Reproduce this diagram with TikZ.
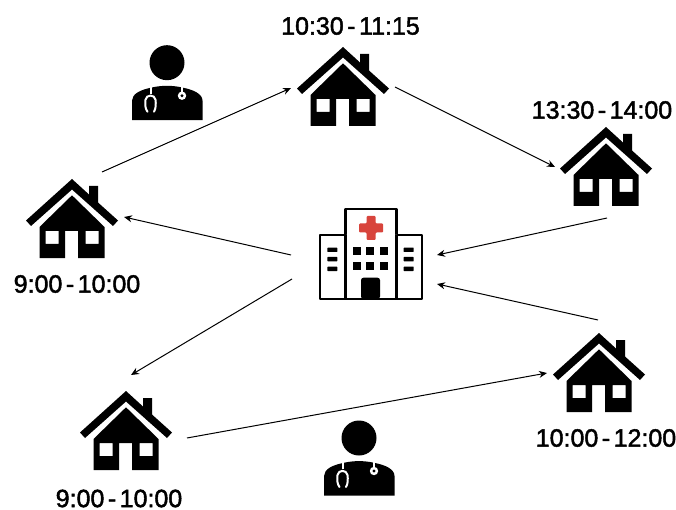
\documentclass[tikz,border=0pt]{standalone}
\usepackage{fontspec}
\setmainfont[FakeBold=1.8]{Liberation Sans}
\usetikzlibrary{arrows.meta}
\definecolor{crossred}{HTML}{D8443C}
\newcommand{\dashgap}{\kern3.5pt-\kern3.5pt}
\tikzset{
  x=1pt,y=-1pt,
  timelabel/.style={font=\fontsize{25}{27}\selectfont,inner sep=0pt,text=black},
  anchorbox/.style={inner sep=0pt,minimum width=60pt,minimum height=60pt},
  route/.style={draw=black,line width=1pt,-{Stealth[length=8pt,width=7pt]}},
  house/.pic={
    \fill[black] (-46,41.5) -- (0,0) -- (17,15.5) -- (17,7) -- (26,7) -- (26,23.5) -- (46,41.5) -- (41,47) -- (0,10.5) -- (-41,47) -- cycle;
    \fill[black,even odd rule] (-32.5,48) -- (0,16.3) -- (32.5,48) -- (32.5,79) -- (6,79) -- (6,52) -- (-7,52) -- (-7,79) -- (-32.5,79) -- cycle
      (-26.5,52) rectangle (-13.5,65) (13.5,52) rectangle (26.5,65);
  },
  doctor/.pic={
    \fill[black] (0,0) circle (17.5);
    \fill[black] (-35,57.5) -- (-35,38) .. controls (-35,31) and (-26,27) .. (-16,25) .. controls (-6,22.5) and (6,22.5) .. (16,25) .. controls (26,27) and (35.5,31) .. (35.5,38) -- (35.5,57.5) -- cycle;
    \draw[white,line width=2pt] (-16.5,24) -- (-16.5,31);
    \draw[white,line width=2pt,line cap=round] (-19.5,49) .. controls (-22,46) and (-22,41) .. (-21.5,37) .. controls (-20.5,31.5) and (-12.5,31.5) .. (-11.5,37) .. controls (-11,41) and (-11,46) .. (-13,49);
    \draw[white,line width=2pt] (15,24) -- (15,29);
    \fill[white] (15,33) circle (4.2);
    \fill[black] (15,33) circle (1.6);
  },
  hospital/.pic={
    \draw[black,line width=2.2pt,line join=round,fill=white] (-25.5,45) -- (-25.5,-44.7) -- (25.5,-44.7) -- (25.5,45) -- cycle;
    \draw[black,line width=2.2pt,line join=round,fill=white] (-25.5,-19) -- (-51,-19) -- (-51,45) -- (50.7,45) -- (50.7,-19) -- (25.5,-19);
    \draw[black,line width=2.2pt] (-25.5,-19) -- (-25.5,45) (25.5,-19) -- (25.5,45);
    \fill[crossred,rounded corners=1pt] (-4.5,-38) -- (4.5,-38) -- (4.5,-30.5) -- (12,-30.5) -- (12,-21.5) -- (4.5,-21.5) -- (4.5,-14) -- (-4.5,-14) -- (-4.5,-21.5) -- (-12,-21.5) -- (-12,-30.5) -- (-4.5,-30.5) -- cycle;
    \foreach \u in {-18.3,-5,8.7} \foreach \v in {-7.3,8.3} \fill[black] (\u,\v) rectangle ++(8,8);
    \foreach \v in {-6.3,3,12.7} {
      \fill[black,rounded corners=0.5pt] (-43.7,\v) rectangle ++(10,4.3);
      \fill[black,rounded corners=0.5pt] (32.7,\v) rectangle ++(10,4.3);
    }
    \fill[black,rounded corners=2.5pt] (-10,45) -- (-10,23.7) -- (9,23.7) -- (9,45) -- cycle;
  }
}
\begin{document}
\begin{tikzpicture}
\useasboundingbox[fill=white] (0,0) rectangle (676,510);
% Icons
\pic at (343,47) {house};
\pic at (606,127) {house};
\pic at (72,179) {house};
\pic at (126,391) {house};
\pic at (599,333) {house};
\pic at (167,62.7) {doctor};
\pic at (359,438) {doctor};
\pic at (371,254) {hospital};
% Named places over the icons
\node[anchorbox] (hTop) at (343,87) {};
\node[anchorbox] (hRight) at (606,167) {};
\node[anchorbox] (hLeft) at (72,219) {};
\node[anchorbox] (hBottomLeft) at (126,431) {};
\node[anchorbox] (hBottomRight) at (599,373) {};
\node[anchorbox] (hosp) at (371,254) {};
% Labels
\node[timelabel] (l1) at (350.5,26) {10:30\dashgap 11:15};
\node[timelabel] (l2) at (602,110) {13:30\dashgap 14:00};
\node[timelabel] (l3) at (77,284) {9:00\dashgap 10:00};
\node[timelabel] (l4) at (119,498.5) {9:00\dashgap 10:00};
\node[timelabel] (l5) at (606,438) {10:00\dashgap 12:00};
% Route arrows
\draw[route] ([shift={(30,-47)}]hLeft.center) -- ([shift={(-52,1)}]hTop.center);
\draw[route] ([shift={(52,0)}]hTop.center) -- ([shift={(-51,0)}]hRight.center);
\draw[route] ([shift={(1,51)}]hRight.center) -- ([shift={(66,1)}]hosp.center);
\draw[route] ([shift={(-1,-53)}]hBottomRight.center) -- ([shift={(66,30)}]hosp.center);
\draw[route] ([shift={(-80,1)}]hosp.center) -- ([shift={(52,-2)}]hLeft.center);
\draw[route] ([shift={(-79,25)}]hosp.center) -- ([shift={(5,-56)}]hBottomLeft.center);
\draw[route] ([shift={(61,7)}]hBottomLeft.center) -- ([shift={(-52,0)}]hBottomRight.center);
\end{tikzpicture}
\end{document}
